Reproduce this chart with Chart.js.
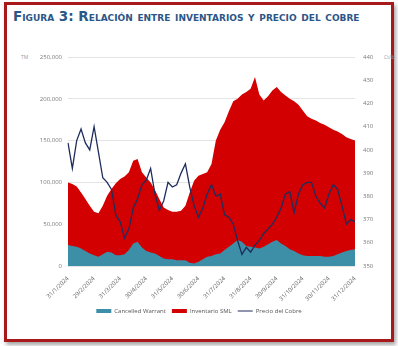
<!DOCTYPE html>
<html>
<head>
<meta charset="utf-8">
<script src="https://cdn.jsdelivr.net/npm/chart.js@4.4.0/dist/chart.umd.min.js"></script>
<style>
  html, body { margin: 0; padding: 0; background: #fff; }
  body { width: 398px; height: 346px; position: relative; overflow: hidden; font-family: 'Open Sans', sans-serif; }
  #frame {
    position: absolute; left: 4px; top: 2px; width: 390px; height: 340px;
    box-sizing: border-box; border: 3px solid #a8191c;
    box-shadow: 2px 3px 4px rgba(0, 0, 0, .35);
  }
  #title {
    position: absolute; left: 13px; top: 8px; white-space: nowrap;
    font: bold 13.5px 'DejaVu Sans', sans-serif; font-variant: small-caps; color: #2b5687;
  }
  .unit { position: absolute; top: 54px; font-size: 5px; color: #9a9a9a; }
  #wrap { position: absolute; left: 0; top: 0; width: 398px; height: 346px; }
</style>
</head>
<body>
<div id="frame"></div>
<div id="title">Figura 3: Relación entre inventarios y precio del cobre</div>
<div class="unit" style="left:21px;">TM</div>
<div class="unit" style="left:384px;">Ct/lb</div>
<div id="wrap"><canvas id="chart"></canvas></div>

<script>
  // month-end tick labels, 6 readings per month between them
  const TICK_LABELS = [
    '31/1/2024', '29/2/2024', '31/3/2024', '30/4/2024', '31/5/2024', '30/6/2024',
    '31/7/2024', '31/8/2024', '30/9/2024', '31/10/2024', '30/11/2024', '31/12/2024',
  ];
  const STEPS_PER_MONTH = 6;

  // TM
  const CANCELLED = [
    25000, 24000, 23000, 21000, 18000, 15000, 13000, 11000, 14000, 17000, 16000, 13000,
    13000, 14000, 19000, 27000, 29000, 22000, 18000, 16000, 15000, 12000, 9000, 8000,
    8000, 7000, 7000, 7000, 4000, 3000, 5000, 8000, 11000, 12000, 14000, 15000,
    19000, 23000, 27000, 31000, 29000, 24000, 23000, 22000, 21000, 23000, 26000, 29000,
    31000, 27000, 24000, 20000, 18000, 15000, 13000, 12000, 12000, 12000, 12000, 11000,
    11000, 12000, 14000, 16000, 18000, 19000, 20000,
  ];
  const INVENTARIO = [
    100000, 98000, 95000, 88000, 80000, 72000, 65000, 63000, 72000, 84000, 92000, 99000,
    104000, 107000, 112000, 126000, 128000, 112000, 106000, 100000, 91000, 80000, 70000, 67000,
    65000, 65000, 66000, 72000, 88000, 102000, 108000, 110000, 112000, 122000, 150000, 163000,
    172000, 185000, 197000, 200000, 205000, 208000, 212000, 226000, 205000, 198000, 203000, 210000,
    214000, 208000, 204000, 200000, 197000, 193000, 186000, 179000, 176000, 174000, 171000, 169000,
    166000, 163000, 161000, 158000, 154000, 152000, 150000,
  ];
  // Ct/lb
  const PRECIO = [
    403, 392, 404, 409, 403, 400, 410, 399, 388, 386, 383, 372,
    369, 362, 366, 375, 379, 385, 387, 392, 381, 374, 378, 386,
    384, 385, 390, 394, 384, 376, 371, 375, 381, 385, 380, 381,
    372, 371, 368, 361, 355, 358, 356, 359, 361, 364, 366, 368,
    371, 375, 381, 382, 373, 381, 385, 386, 386, 380, 377, 375,
    381, 385, 383, 376, 368, 370, 369,
  ];

  const TEAL = '#3c8fa6';
  const RED  = '#d20000';
  const NAVY = '#1f2d5c';
  const TICK_FONT = { family: "'Open Sans', sans-serif", size: 6 };

  const labels = CANCELLED.map((_, i) =>
    i % STEPS_PER_MONTH === 0 ? TICK_LABELS[i / STEPS_PER_MONTH] : '');

  new Chart(document.getElementById('chart'), {
    type: 'line',
    data: {
      labels,
      datasets: [
        {
          label: 'Cancelled Warrant', data: CANCELLED, yAxisID: 'y',
          backgroundColor: TEAL, borderWidth: 0, fill: 'origin',
          pointRadius: 0, pointBorderWidth: 0, pointStyle: 'rect', order: 1,
        },
        {
          label: 'Inventario SML', data: INVENTARIO, yAxisID: 'y',
          backgroundColor: RED, borderWidth: 0, fill: 'origin',
          pointRadius: 0, pointBorderWidth: 0, pointStyle: 'rect', order: 2,
        },
        {
          label: 'Precio del Cobre', data: PRECIO, yAxisID: 'y1',
          borderColor: NAVY, backgroundColor: NAVY, borderWidth: 1.3, fill: false,
          pointRadius: 0, pointBorderWidth: 1, pointStyle: 'line', order: 0,
        },
      ],
    },
    options: {
      responsive: true,
      maintainAspectRatio: false,
      animation: false,
      layout: { padding: { left: 0, right: 0, top: 57, bottom: 22 } },
      plugins: {
        tooltip: { enabled: false },
        legend: {
          position: 'bottom',
          labels: {
            usePointStyle: true, pointStyleWidth: 15, boxHeight: 4,
            padding: 6, color: '#555',
            font: { family: "'Open Sans', sans-serif", size: 6 },
            sort: (a, b) => a.datasetIndex - b.datasetIndex,
          },
        },
      },
      scales: {
        x: {
          grid: { display: false },
          border: { display: false },
          ticks: {
            autoSkip: false, maxRotation: 45, minRotation: 45,
            color: '#666', font: TICK_FONT, padding: 1,
          },
          afterFit: s => { s.height = 36; },
        },
        y: {
          position: 'left', min: 0, max: 250000,
          grid: { color: '#e4e4e4', drawTicks: false },
          border: { display: false },
          ticks: {
            stepSize: 50000, padding: 6, color: '#7a7a7a', font: TICK_FONT,
            callback: v => v.toLocaleString('en-US'),
          },
          afterFit: s => { s.width = 68; },
        },
        y1: {
          position: 'right', min: 350, max: 440,
          grid: { drawOnChartArea: false, drawTicks: false },
          border: { display: false },
          ticks: { stepSize: 10, padding: 8, color: '#7a7a7a', font: TICK_FONT },
          afterFit: s => { s.width = 43; },
        },
      },
    },
  });
</script>
</body>
</html>
